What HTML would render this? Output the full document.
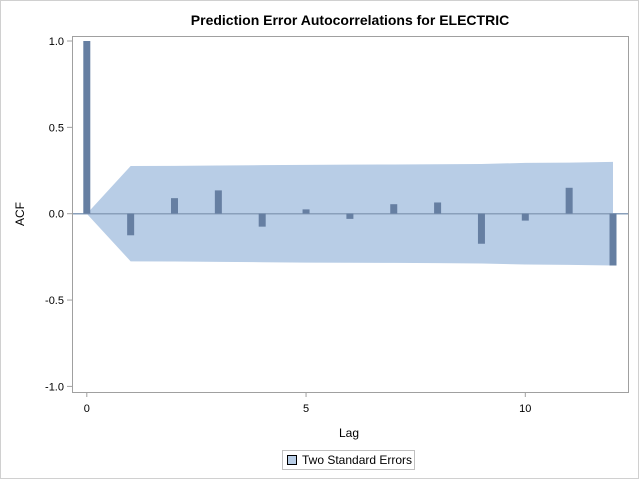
<!DOCTYPE html>
<html><head><meta charset="utf-8"><style>
body{margin:0;background:#fff;}
svg{display:block;font-family:"Liberation Sans",Arial,sans-serif;}
</style></head><body>
<svg width="640" height="480">
<rect x="0.5" y="0.5" width="638" height="478" fill="#fff" stroke="#d0d0d0"/>
<text x="350" y="25" text-anchor="middle" font-size="14" font-weight="bold" fill="#000">Prediction Error Autocorrelations for ELECTRIC</text>
<g id="plot"></g>
<text x="349" y="437" text-anchor="middle" font-size="12" fill="#000">Lag</text>
<text transform="translate(24,214) rotate(-90)" text-anchor="middle" font-size="12" fill="#000">ACF</text>
<g>
<rect x="282.5" y="450.5" width="132" height="19" fill="#fff" stroke="#c0c0c0"/>
<rect x="287.5" y="455.5" width="9" height="9" fill="#b8cde6" stroke="#000"/>
<text x="302" y="464" font-size="12" fill="#000">Two Standard Errors</text>
</g>
</svg>
<script>
const lags=[0,1,2,3,4,5,6,7,8,9,10,11,12];
const acf=[1.0,-0.125,0.09,0.135,-0.075,0.025,-0.03,0.055,0.065,-0.174,-0.04,0.15,-0.30];
const stdErr2=[0,0.276,0.277,0.279,0.281,0.283,0.284,0.285,0.286,0.288,0.294,0.296,0.30];
const yTicks=[1.0,0.5,0.0,-0.5,-1.0];
const yTickLabels=["1.0","0.5","0.0","-0.5","-1.0"];
const xTicks=[0,5,10];
const NS="http://www.w3.org/2000/svg";
const L=72,R=628,T=36,B=392;
const xs=v=>86.8+v*43.85;
const ys=v=>213.7-v*172.7;
const g=document.getElementById('plot');
function mk(tag,attrs){const e=document.createElementNS(NS,tag);for(const k in attrs)e.setAttribute(k,attrs[k]);g.appendChild(e);return e;}
// band
let up=lags.map((l,i)=>xs(l)+','+ys(stdErr2[i])).join(' ');
let dn=lags.slice().reverse().map((l,j)=>{const i=lags.length-1-j;return xs(l)+','+ys(-stdErr2[i]);}).join(' ');
const band=mk('polygon',{points:up+' '+dn,fill:'#b8cde6'});


const zl=mk('line',{x1:L,x2:R,y1:ys(0),y2:ys(0),stroke:'#8aa0bb','stroke-width':1.5});


lags.forEach((l,i)=>{
  const y0=ys(0),y1=ys(acf[i]);
  const b=mk('rect',{x:xs(l)-3.5,y:Math.min(y0,y1),width:7,height:Math.abs(y1-y0),fill:'#667fa2'});
  
  
});
const fr=mk('rect',{x:L+0.5,y:T+0.5,width:R-L,height:B-T,fill:'none',stroke:'#a0a0a0'});


yTicks.forEach((v,i)=>{
  const t=mk('line',{x1:L-5,x2:L,y1:ys(v),y2:ys(v),stroke:'#a0a0a0'});
  
  
  const tx=mk('text',{x:L-8,y:ys(v)+4,'text-anchor':'end','font-size':11,fill:'#000'});
  tx.textContent=yTickLabels[i];
  
  
});
xTicks.forEach(v=>{
  const t=mk('line',{x1:xs(v),x2:xs(v),y1:B,y2:B+5,stroke:'#a0a0a0'});
  
  
  const tx=mk('text',{x:xs(v),y:B+20,'text-anchor':'middle','font-size':11,fill:'#000'});
  tx.textContent=String(v);
  
  
});
</script>
</body></html>
